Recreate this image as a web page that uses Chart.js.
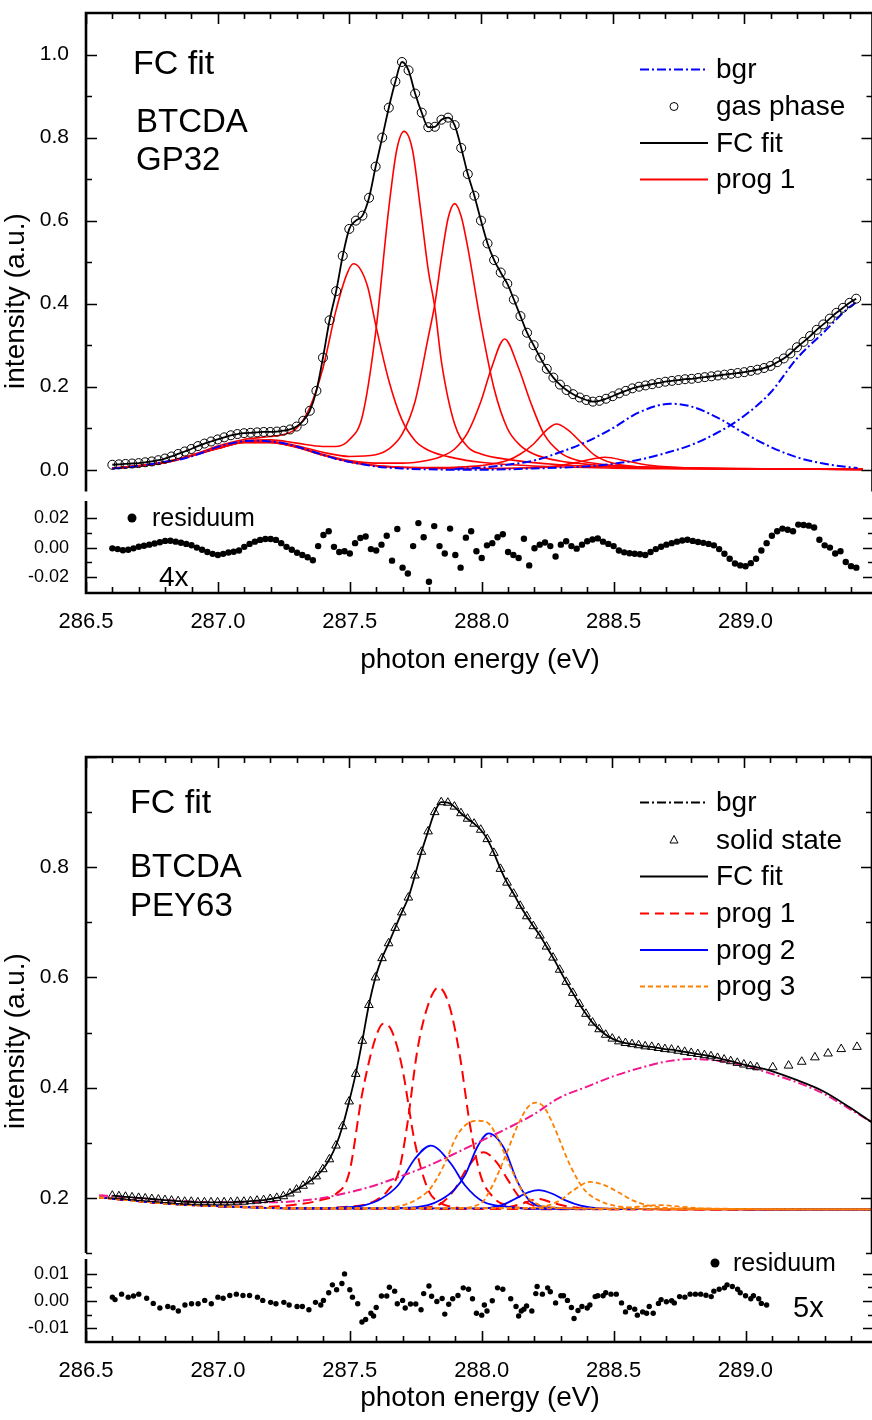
<!DOCTYPE html>
<html>
<head>
<meta charset="utf-8">
<title>BTCDA FC fit</title>
<script src="https://cdn.jsdelivr.net/npm/chart.js"></script>
<style>
  body { margin: 0; background: #fff; width: 872px; height: 1420px; overflow: hidden; position: relative; }
  canvas { position: absolute; left: 0; }
</style>
</head>
<body>
<canvas id="gpMain" width="878" height="497" style="top:0"></canvas>
<canvas id="gpRes" width="878" height="190" style="top:497px"></canvas>
<canvas id="ssMain" width="878" height="515" style="top:744px"></canvas>
<canvas id="ssRes" width="878" height="186" style="top:1239px"></canvas>
<script>
const FONT = "'Liberation Sans', Arial, Helvetica, sans-serif";

// shared energy axis (right frame edge sits just past the picture edge)
const E_MIN = 286.5, E_MAX = 289.487;
const xMajor = [286.5, 287.0, 287.5, 288.0, 288.5, 289.0];

// ---------- top panel: gas phase GP32 ----------
const gasStart = 286.6, gasStep = 0.025;
const gasPhase = [
  0.012,0.013,0.014,0.015,0.016,0.018,0.020,0.023,0.027,0.032,
  0.038,0.044,0.050,0.057,0.063,0.068,0.073,0.078,0.083,0.086,
  0.088,0.089,0.090,0.091,0.091,0.092,0.094,0.097,0.104,0.118,
  0.142,0.19,0.27,0.36,0.43,0.515,0.58,0.600,0.612,0.655,
  0.73,0.80,0.872,0.935,0.982,0.962,0.906,0.86,0.825,0.826,
  0.843,0.848,0.830,0.775,0.712,0.66,0.60,0.545,0.505,0.475,
  0.448,0.41,0.37,0.33,0.30,0.27,0.243,0.222,0.205,0.192,
  0.182,0.174,0.168,0.164,0.166,0.171,0.177,0.184,0.190,0.196,
  0.200,0.203,0.206,0.209,0.212,0.214,0.216,0.218,0.219,0.221,
  0.223,0.225,0.227,0.229,0.231,0.233,0.235,0.238,0.241,0.245,
  0.250,0.259,0.268,0.280,0.295,0.308,0.322,0.337,0.35,0.364,
  0.378,0.390,0.402,0.412
];

const gpBgrEdge = [[286.6,0.003],[286.65,0.005],[286.7,0.009],[286.75,0.014],[286.8,0.019],[286.85,0.024],[286.9,0.032],[286.95,0.043],[287.0,0.055],[287.05,0.063],[287.1,0.069],[287.15,0.070],[287.2,0.068],[287.25,0.064],[287.3,0.056],[287.35,0.046],[287.4,0.036],[287.45,0.026],[287.5,0.019],[287.55,0.013],[287.6,0.008],[287.65,0.005],[287.7,0.003],[287.8,0.001],[287.9,0.0],[288.0,0.0],[288.1,0.001],[288.2,0.003],[288.3,0.005],[288.4,0.008],[288.5,0.014],[288.6,0.024],[288.7,0.04],[288.8,0.06],[288.9,0.09],[289.0,0.13],[289.1,0.186],[289.2,0.268],[289.3,0.33],[289.4,0.392],[289.43,0.405]];
const gpBgrPeak = [[287.9,0.002],[288.0,0.005],[288.1,0.012],[288.2,0.022],[288.3,0.042],[288.4,0.067],[288.5,0.10],[288.6,0.138],[288.72,0.159],[288.8,0.152],[288.9,0.125],[289.0,0.088],[289.1,0.055],[289.2,0.03],[289.3,0.015],[289.4,0.006],[289.43,0.004]];

const gpProg1 = [
  [[286.6,0.004],[286.7,0.010],[286.8,0.019],[286.9,0.034],[287.0,0.057],[287.1,0.073],[287.2,0.08],[287.25,0.085],[287.3,0.1],[287.35,0.15],[287.4,0.245],[287.45,0.385],[287.49,0.47],[287.515,0.496],[287.54,0.485],[287.57,0.44],[287.6,0.35],[287.65,0.215],[287.7,0.12],[287.75,0.07],[287.8,0.047],[287.9,0.028],[288.0,0.018],[288.2,0.009],[288.5,0.004],[289.0,0.002],[289.45,0.001]],
  [[286.6,0.004],[286.8,0.018],[287.0,0.054],[287.1,0.069],[287.2,0.072],[287.3,0.064],[287.4,0.056],[287.45,0.056],[287.5,0.072],[287.55,0.13],[287.6,0.33],[287.65,0.63],[287.68,0.77],[287.708,0.815],[287.74,0.77],[287.77,0.63],[287.8,0.48],[287.825,0.39],[287.85,0.26],[287.9,0.11],[287.95,0.055],[288.0,0.038],[288.1,0.025],[288.3,0.012],[288.6,0.005],[289.0,0.002],[289.45,0.001]],
  [[286.6,0.003],[286.8,0.017],[287.0,0.052],[287.1,0.067],[287.2,0.068],[287.3,0.058],[287.4,0.042],[287.5,0.032],[287.6,0.036],[287.65,0.05],[287.7,0.085],[287.75,0.165],[287.8,0.32],[287.825,0.40],[287.85,0.51],[287.875,0.605],[287.90,0.641],[287.925,0.61],[287.95,0.535],[288.0,0.35],[288.05,0.195],[288.1,0.1],[288.15,0.058],[288.2,0.038],[288.3,0.021],[288.5,0.009],[288.8,0.004],[289.1,0.002],[289.45,0.001]],
  [[286.6,0.003],[286.8,0.017],[287.0,0.051],[287.1,0.066],[287.2,0.066],[287.3,0.055],[287.4,0.037],[287.5,0.022],[287.6,0.016],[287.7,0.016],[287.8,0.023],[287.85,0.032],[287.9,0.05],[287.95,0.09],[288.0,0.165],[288.04,0.245],[288.09,0.315],[288.14,0.25],[288.19,0.16],[288.24,0.085],[288.3,0.042],[288.35,0.026],[288.45,0.014],[288.6,0.007],[288.9,0.003],[289.45,0.001]],
  [[286.6,0.003],[286.8,0.017],[287.0,0.051],[287.1,0.066],[287.2,0.066],[287.3,0.054],[287.4,0.035],[287.5,0.019],[287.6,0.01],[287.7,0.006],[287.8,0.005],[287.9,0.006],[288.0,0.01],[288.1,0.022],[288.15,0.038],[288.2,0.062],[288.25,0.096],[288.287,0.11],[288.33,0.096],[288.38,0.066],[288.43,0.036],[288.5,0.016],[288.6,0.007],[288.8,0.003],[289.45,0.001]],
  [[286.6,0.003],[286.8,0.017],[287.0,0.051],[287.1,0.066],[287.2,0.066],[287.3,0.054],[287.4,0.035],[287.5,0.019],[287.6,0.01],[287.8,0.004],[288.0,0.003],[288.2,0.005],[288.3,0.01],[288.38,0.02],[288.47,0.03],[288.56,0.02],[288.65,0.01],[288.8,0.004],[289.0,0.002],[289.45,0.001]]
];

const gpResStart = 286.6, gpResStep = 0.02;
const gpResiduum = [
  -0.0005,-0.001,-0.0018,-0.0015,-0.0005,0.0006,0.0012,0.002,0.0028,0.0036,
  0.0045,0.0046,0.004,0.0033,0.0025,0.0016,0.0,-0.0015,-0.003,-0.0042,
  -0.005,-0.0042,-0.0033,-0.0028,-0.002,0.0005,0.0025,0.004,0.0052,0.0058,
  0.0058,0.0052,0.003,0.0005,-0.0015,-0.0035,-0.005,-0.0065,-0.0085,0.001,
  0.0085,0.011,0.0005,-0.003,-0.0025,-0.004,0.003,0.0065,0.0075,-0.001,
  -0.002,0.002,0.008,-0.0088,0.0125,-0.0135,-0.0175,0.001,0.0165,0.007,
  -0.023,0.0145,0.001,-0.004,0.0128,-0.005,-0.0135,0.0067,0.011,-0.0025,
  -0.007,0.0015,0.003,0.007,0.009,-0.003,-0.005,-0.007,0.006,-0.012,
  -0.0004,0.002,0.0034,0.001,-0.006,0.002,0.0043,0.001,-0.0007,0.002,
  0.0043,0.0055,0.0062,0.004,0.0025,0.001,-0.002,-0.0032,-0.0038,-0.0041,
  -0.0045,-0.005,-0.003,-0.001,0.0006,0.002,0.003,0.004,0.0048,0.0053,
  0.0045,0.0038,0.0032,0.0025,0.0015,-0.001,-0.0041,-0.0075,-0.0107,-0.012,
  -0.0126,-0.0105,-0.0075,-0.002,0.003,0.008,0.011,0.0128,0.012,0.011,
  0.0155,0.0152,0.0148,0.0135,0.0053,0.0015,0.0,-0.004,-0.0025,-0.0097,
  -0.0125,-0.0135
];

// ---------- bottom panel: solid state PEY63 ----------
const solidStart = 286.6, solidStep = 0.025;
const solidState = [
  0.204,0.203,0.202,0.201,0.200,0.199,0.198,0.197,0.196,0.195,
  0.194,0.193,0.193,0.192,0.192,0.192,0.192,0.192,0.192,0.193,
  0.193,0.194,0.195,0.196,0.198,0.200,0.203,0.208,0.215,0.222,
  0.230,0.239,0.252,0.270,0.295,0.330,0.375,0.425,0.485,0.550,
  0.600,0.635,0.662,0.690,0.718,0.745,0.785,0.828,0.865,0.900,
  0.918,0.917,0.910,0.898,0.888,0.879,0.868,0.851,0.826,0.797,
  0.772,0.752,0.730,0.711,0.693,0.676,0.656,0.636,0.614,0.592,
  0.572,0.552,0.534,0.518,0.506,0.496,0.489,0.484,0.481,0.479,
  0.477,0.475,0.474,0.472,0.470,0.469,0.467,0.465,0.463,0.461,
  0.459,0.457,0.454,0.451,0.448,0.445,0.442,0.439,0.437
];
const solidTail = [[289.11,0.437],[289.17,0.440],[289.22,0.447],[289.27,0.455],[289.32,0.462],[289.37,0.470],[289.43,0.474]];
const fitTail = [[289.1,0.431],[289.2,0.414],[289.3,0.394],[289.4,0.365],[289.487,0.337]];

const ssBgr = [[286.55,0.205],[286.6,0.203],[286.8,0.196],[287.0,0.192],[287.2,0.192],[287.3,0.194],[287.4,0.2],[287.5,0.21],[287.6,0.223],[287.7,0.24],[287.8,0.258],[287.9,0.28],[288.0,0.303],[288.1,0.326],[288.2,0.351],[288.3,0.382],[288.4,0.401],[288.5,0.42],[288.6,0.435],[288.7,0.447],[288.8,0.452],[288.9,0.449],[289.0,0.44],[289.1,0.426],[289.2,0.41],[289.3,0.39],[289.4,0.362],[289.487,0.337]];

const ssProg1 = [
  [[286.55,0.201],[286.8,0.19],[287.0,0.185],[287.2,0.184],[287.3,0.188],[287.4,0.197],[287.45,0.207],[287.5,0.245],[287.55,0.39],[287.6,0.49],[287.63,0.516],[287.66,0.505],[287.7,0.44],[287.75,0.30],[287.8,0.215],[287.85,0.19],[287.9,0.183],[288.0,0.18],[289.487,0.179]],
  [[286.55,0.201],[286.8,0.19],[287.0,0.185],[287.3,0.181],[287.5,0.184],[287.6,0.195],[287.65,0.215],[287.69,0.25],[287.72,0.33],[287.76,0.47],[287.8,0.55],[287.84,0.582],[287.88,0.55],[287.92,0.46],[287.96,0.33],[288.0,0.24],[288.05,0.2],[288.1,0.186],[288.2,0.181],[289.487,0.179]],
  [[286.55,0.201],[286.8,0.19],[287.0,0.185],[287.3,0.181],[287.7,0.18],[287.8,0.183],[287.85,0.19],[287.9,0.215],[287.95,0.255],[288.01,0.283],[288.06,0.265],[288.1,0.235],[288.15,0.2],[288.2,0.186],[288.3,0.18],[289.487,0.179]],
  [[286.55,0.201],[286.8,0.19],[287.0,0.185],[287.3,0.181],[288.0,0.18],[288.1,0.183],[288.16,0.19],[288.22,0.198],[288.28,0.19],[288.35,0.183],[288.45,0.18],[289.487,0.179]]
];
const ssProg2 = [
  [[286.55,0.201],[286.8,0.19],[287.0,0.185],[287.3,0.181],[287.5,0.183],[287.56,0.187],[287.62,0.198],[287.686,0.223],[287.75,0.271],[287.81,0.295],[287.887,0.262],[287.94,0.223],[288.01,0.193],[288.1,0.184],[288.2,0.18],[289.487,0.179]],
  [[286.55,0.201],[286.8,0.19],[287.0,0.185],[287.3,0.181],[287.7,0.182],[287.8,0.187],[287.85,0.197],[287.9,0.215],[287.94,0.241],[287.99,0.295],[288.03,0.317],[288.09,0.289],[288.14,0.229],[288.19,0.193],[288.25,0.183],[288.4,0.18],[289.487,0.179]],
  [[286.55,0.201],[286.8,0.19],[287.0,0.185],[287.3,0.181],[288.0,0.181],[288.08,0.187],[288.13,0.198],[288.18,0.21],[288.22,0.214],[288.27,0.208],[288.32,0.196],[288.38,0.186],[288.45,0.181],[288.6,0.18],[289.487,0.179]]
];
const ssProg3 = [
  [[286.55,0.201],[286.8,0.19],[287.0,0.185],[287.3,0.181],[287.6,0.181],[287.7,0.186],[287.76,0.198],[287.81,0.218],[287.86,0.259],[287.91,0.313],[287.95,0.335],[287.99,0.34],[288.03,0.335],[288.06,0.313],[288.11,0.259],[288.16,0.211],[288.21,0.19],[288.3,0.182],[288.4,0.18],[289.487,0.179]],
  [[286.55,0.201],[286.8,0.19],[287.0,0.185],[287.3,0.181],[287.9,0.181],[288.0,0.19],[288.04,0.218],[288.09,0.271],[288.14,0.331],[288.18,0.365],[288.21,0.373],[288.24,0.365],[288.277,0.331],[288.34,0.259],[288.39,0.217],[288.45,0.195],[288.55,0.183],[288.7,0.18],[289.487,0.179]],
  [[286.55,0.201],[286.8,0.19],[287.0,0.185],[287.3,0.181],[288.2,0.182],[288.3,0.195],[288.35,0.213],[288.415,0.229],[288.47,0.223],[288.52,0.211],[288.58,0.195],[288.65,0.185],[288.75,0.181],[289.487,0.179]],
  [[286.55,0.201],[286.8,0.19],[287.0,0.185],[287.3,0.181],[288.5,0.181],[288.6,0.184],[288.68,0.187],[288.76,0.184],[288.85,0.181],[289.487,0.179]]
];

const ssResiduum = [[286.60,0.0014],[286.61,0.0005],[286.635,0.0025],[286.66,0.0014],[286.68,0.0018],[286.70,0.0025],[286.73,0.001],[286.755,-0.0009],[286.78,-0.0026],[286.81,-0.002],[286.83,-0.0025],[286.85,-0.0037],[286.875,-0.0015],[286.90,-0.001],[286.925,-0.001],[286.95,0.0002],[286.975,-0.001],[287.0,0.0014],[287.02,0.001],[287.045,0.002],[287.07,0.0025],[287.095,0.002],[287.12,0.002],[287.15,0.0014],[287.17,0.0002],[287.2,-0.0005],[287.22,-0.001],[287.25,-0.0005],[287.27,-0.0015],[287.30,-0.002],[287.32,-0.002],[287.345,-0.0032],[287.37,-0.0005],[287.39,-0.0015],[287.40,0.0002],[287.42,0.003],[287.434,0.0059],[287.45,0.0041],[287.47,0.0064],[287.48,0.0099],[287.5,0.0041],[287.51,0.0014],[287.53,-0.001],[287.546,-0.0077],[287.56,-0.0068],[287.58,-0.0045],[287.59,-0.0055],[287.6,-0.0024],[287.62,0.0018],[287.64,0.0018],[287.65,0.005],[287.67,0.0036],[287.68,-0.001],[287.7,0.0002],[287.71,-0.0026],[287.73,-0.0011],[287.75,-0.0011],[287.77,-0.0032],[287.78,0.0027],[287.8,0.0055],[287.81,0.0017],[287.83,-0.0002],[287.85,0.0009],[287.86,-0.0048],[287.875,-0.0012],[287.89,0.0008],[287.91,0.002],[287.93,0.0048],[287.95,0.0043],[287.965,0.0008],[287.98,-0.0045],[288.0,-0.0052],[288.01,-0.0015],[288.02,-0.0037],[288.04,0.0001],[288.06,0.0048],[288.08,0.0043],[288.11,0.0008],[288.13,-0.002],[288.14,-0.0055],[288.15,-0.0037],[288.16,-0.003],[288.17,-0.0018],[288.19,-0.0037],[288.205,0.0027],[288.21,0.0053],[288.23,0.0025],[288.25,0.0048],[288.26,0.0034],[288.28,-0.0007],[288.30,0.0019],[288.31,0.0019],[288.325,0.0002],[288.34,-0.0024],[288.35,-0.0064],[288.365,-0.0035],[288.38,-0.002],[288.40,-0.0026],[288.41,-0.0015],[288.43,0.0016],[288.44,0.0019],[288.46,0.0019],[288.47,0.003],[288.49,0.0025],[288.51,0.0025],[288.53,-0.0007],[288.545,-0.004],[288.56,-0.0024],[288.58,-0.003],[288.59,-0.0052],[288.61,-0.004],[288.625,-0.0045],[288.635,-0.002],[288.65,-0.0045],[288.67,-0.0009],[288.68,0.0005],[288.70,-0.0003],[288.72,0.0001],[288.73,-0.0007],[288.75,0.0016],[288.77,0.0014],[288.79,0.0025],[288.81,0.0025],[288.83,0.0025],[288.85,0.0021],[288.87,0.0016],[288.88,0.0036],[288.90,0.0043],[288.92,0.0048],[288.93,0.0059],[288.95,0.0053],[288.97,0.0043],[288.98,0.003],[289.0,0.0019],[289.02,0.0008],[289.03,0.0019],[289.05,0.0008],[289.06,-0.0009],[289.08,-0.0015]];

// ---------- helpers ----------
const grid = (start, step, vals) => vals.map((v, i) => ({x: +(start + i * step).toFixed(4), y: v}));
const pairs = arr => arr.map(([x, y]) => ({x, y}));

function curve(data, color, width, dash) {
  return {data, showLine: true, borderColor: color, borderWidth: width, borderDash: dash || [],
          pointRadius: 0, fill: false, cubicInterpolationMode: 'monotone'};
}
function marks(data, style, radius, fillColor, width) {
  return {data, showLine: false, pointStyle: style, pointRadius: radius,
          pointBackgroundColor: fillColor, pointBorderColor: '#000', pointBorderWidth: width};
}

const xMinor = [];
for (let v = 286.6; v < E_MAX; v += 0.1) xMinor.push(+v.toFixed(1));

function xHidden() { return {type: 'linear', min: E_MIN, max: E_MAX, display: false}; }
function xShown() {
  return {
    type: 'linear', min: E_MIN, max: E_MAX,
    grid: {display: false}, border: {display: false},
    afterBuildTicks: s => { s.ticks = xMajor.map(v => ({value: v})); },
    afterFit: s => { s.paddingLeft = 0; s.paddingRight = 0; },
    ticks: {font: {size: 22}, padding: 8, maxRotation: 0, autoSkip: false, callback: v => v.toFixed(1)},
    title: {display: true, text: 'photon energy (eV)', font: {size: 28}, padding: {top: 0, bottom: 10}}
  };
}
function yAxis(min, max, ticks, digits, size) {
  return {
    type: 'linear', min, max,
    grid: {display: false}, border: {display: false},
    afterBuildTicks: s => { s.ticks = ticks.map(v => ({value: v})); },
    afterFit: s => { s.width = 86; s.paddingTop = 0; s.paddingBottom = 0; },
    ticks: {font: {size}, padding: 9, callback: v => (Math.abs(v) < 1e-9 ? 0 : v).toFixed(digits)}
  };
}

// frame lines and inward ticks
const framePlugin = {
  id: 'frame',
  afterDatasetsDraw(chart, args, o) {
    const {ctx, chartArea: a} = chart;
    const x = chart.scales.x, y = chart.scales.y;
    ctx.save();
    ctx.strokeStyle = '#000';
    ctx.lineWidth = 1.6;
    ctx.beginPath();
    const tx = (vals, len) => vals.forEach(v => {
      const p = Math.round(x.getPixelForValue(v)) + 0.5;
      if (o.top) { ctx.moveTo(p, a.top); ctx.lineTo(p, a.top + len); }
      if (o.bottom) { ctx.moveTo(p, a.bottom); ctx.lineTo(p, a.bottom - len); }
    });
    const ty = (vals, len) => vals.forEach(v => {
      const p = Math.round(y.getPixelForValue(v)) + 0.5;
      ctx.moveTo(a.left, p); ctx.lineTo(a.left + len, p);
      ctx.moveTo(a.right, p); ctx.lineTo(a.right - len, p);
    });
    tx(xMajor, 11); tx(xMinor, 6);
    ty(o.yMajor, 11); ty(o.yMinor, 6);
    ctx.stroke();
    ctx.lineWidth = 2.6;
    ctx.beginPath();
    ctx.moveTo(a.left, a.top); ctx.lineTo(a.left, a.bottom);
    ctx.moveTo(a.right, a.top); ctx.lineTo(a.right, a.bottom);
    if (o.top) { ctx.moveTo(a.left - 1.3, a.top); ctx.lineTo(a.right + 1.3, a.top); }
    if (o.bottom) { ctx.moveTo(a.left - 1.3, a.bottom); ctx.lineTo(a.right + 1.3, a.bottom); }
    ctx.stroke();
    ctx.restore();
  }
};

// text labels and legend keys
const notesPlugin = {
  id: 'notes',
  afterDraw(chart, args, o) {
    const ctx = chart.ctx;
    ctx.save();
    ctx.fillStyle = '#000';
    ctx.textBaseline = 'middle';
    (o.texts || []).forEach(t => {
      ctx.save();
      ctx.font = t.size + 'px ' + FONT;
      ctx.translate(t.x, t.y);
      if (t.rot) ctx.rotate(t.rot);
      ctx.textAlign = t.align || 'left';
      ctx.fillText(t.text, 0, 0);
      ctx.restore();
    });
    (o.keys || []).forEach(k => {
      ctx.save();
      if (k.marker) {
        const cx = k.mx || 674, cy = k.y;
        ctx.strokeStyle = '#000'; ctx.fillStyle = '#000'; ctx.lineWidth = 1;
        ctx.beginPath();
        if (k.marker === 'circle') { ctx.arc(cx, cy, 4, 0, Math.PI * 2); ctx.stroke(); }
        else if (k.marker === 'dot') { ctx.arc(cx, cy, 4.5, 0, Math.PI * 2); ctx.fill(); }
        else if (k.marker === 'triangle') {
          ctx.moveTo(cx, cy - 4.5); ctx.lineTo(cx + 4, cy + 3); ctx.lineTo(cx - 4, cy + 3); ctx.closePath(); ctx.stroke();
        }
      } else {
        ctx.strokeStyle = k.color; ctx.lineWidth = k.width; ctx.setLineDash(k.dash || []);
        ctx.beginPath(); ctx.moveTo(640, k.y); ctx.lineTo(708, k.y); ctx.stroke();
      }
      ctx.restore();
      ctx.font = (k.size || 28) + 'px ' + FONT;
      ctx.textAlign = 'left';
      ctx.fillText(k.label, k.tx || 716, k.y + 1);
    });
    ctx.restore();
  }
};

Chart.defaults.font.family = FONT;
Chart.defaults.color = '#000';
Chart.defaults.animation = false;
Chart.defaults.events = [];
Chart.register(framePlugin, notesPlugin);

const basePlugins = {legend: {display: false}, tooltip: {enabled: false}};
const RED = '#ff0000', BLUE = '#0000ff', ORANGE = '#ff8000', PINK = '#f0188c';
const DASHDOT = [9, 3, 2, 3];

// ---- top main ----
new Chart(document.getElementById('gpMain'), {
  type: 'scatter',
  data: {datasets: [
    marks(grid(gasStart, gasStep, gasPhase), 'circle', 4.5, 'rgba(0,0,0,0)', 1),
    curve(grid(gasStart, gasStep, gasPhase), '#000', 1.8),
    curve(pairs(gpBgrEdge), BLUE, 2, DASHDOT),
    curve(pairs(gpBgrPeak), BLUE, 2, DASHDOT),
    ...gpProg1.map(p => curve(pairs(p), RED, 1.6))
  ]},
  options: {
    responsive: false, maintainAspectRatio: false,
    layout: {padding: {top: 13, right: 1, bottom: 0, left: 0}},
    scales: {x: xHidden(), y: yAxis(-0.0524, 1.1, [0, 0.2, 0.4, 0.6, 0.8, 1.0], 1, 21)},
    plugins: {...basePlugins,
      frame: {top: true, bottom: false, yMajor: [0, 0.2, 0.4, 0.6, 0.8, 1.0], yMinor: [0.1, 0.3, 0.5, 0.7, 0.9]},
      notes: {
        texts: [
          {text: 'FC fit', x: 133, y: 65, size: 34},
          {text: 'BTCDA', x: 136, y: 123, size: 33},
          {text: 'GP32', x: 136, y: 161, size: 33},
          {text: 'intensity (a.u.)', x: 16, y: 301, size: 28, rot: -Math.PI / 2, align: 'center'}
        ],
        keys: [
          {label: 'bgr', y: 69.5, color: BLUE, width: 2, dash: DASHDOT},
          {label: 'gas phase', y: 106.5, marker: 'circle'},
          {label: 'FC fit', y: 143, color: '#000', width: 2},
          {label: 'prog 1', y: 179.5, color: RED, width: 2}
        ]
      }
    }
  }
});

// ---- top residual ----
new Chart(document.getElementById('gpRes'), {
  type: 'scatter',
  data: {datasets: [marks(grid(gpResStart, gpResStep, gpResiduum), 'circle', 3.2, '#000', 0)]},
  options: {
    responsive: false, maintainAspectRatio: false,
    layout: {padding: {top: 0, right: 1, bottom: 0, left: 0}},
    scales: {x: xShown(), y: yAxis(-0.0306, 0.0314, [-0.02, 0, 0.02], 2, 18)},
    plugins: {...basePlugins,
      frame: {top: false, bottom: true, yMajor: [-0.02, 0, 0.02], yMinor: [-0.01, 0.01]},
      notes: {
        texts: [{text: '4x', x: 159, y: 81, size: 28}],
        keys: [{label: 'residuum', y: 21, marker: 'dot', mx: 132, tx: 152, size: 25}]
      }
    }
  }
});

// ---- bottom main ----
new Chart(document.getElementById('ssMain'), {
  type: 'scatter',
  data: {datasets: [
    marks(grid(solidStart, solidStep, solidState).concat(pairs(solidTail)), 'triangle', 5, 'rgba(0,0,0,0)', 1),
    curve(grid(solidStart, solidStep, solidState).concat(pairs(fitTail)), '#000', 1.8),
    curve(pairs(ssBgr), PINK, 2, DASHDOT),
    ...ssProg3.map(p => curve(pairs(p), ORANGE, 1.8, [5, 3])),
    ...ssProg2.map(p => curve(pairs(p), BLUE, 1.8)),
    ...ssProg1.map(p => curve(pairs(p), RED, 2, [11, 6]))
  ]},
  options: {
    responsive: false, maintainAspectRatio: false,
    layout: {padding: {top: 13, right: 1, bottom: 0, left: 0}},
    scales: {x: xHidden(), y: yAxis(0.1, 1.0, [0.2, 0.4, 0.6, 0.8], 1, 21)},
    plugins: {...basePlugins,
      frame: {top: true, bottom: false, yMajor: [0.2, 0.4, 0.6, 0.8, 1.0], yMinor: [0.1, 0.3, 0.5, 0.7, 0.9]},
      notes: {
        texts: [
          {text: 'FC fit', x: 130, y: 60, size: 34},
          {text: 'BTCDA', x: 130, y: 124, size: 33},
          {text: 'PEY63', x: 130, y: 163, size: 33},
          {text: 'intensity (a.u.)', x: 16, y: 297, size: 28, rot: -Math.PI / 2, align: 'center'}
        ],
        keys: [
          {label: 'bgr', y: 58.5, color: '#000', width: 2, dash: DASHDOT},
          {label: 'solid state', y: 96, marker: 'triangle'},
          {label: 'FC fit', y: 132.5, color: '#000', width: 2},
          {label: 'prog 1', y: 169.5, color: RED, width: 2, dash: [9, 6]},
          {label: 'prog 2', y: 206, color: BLUE, width: 2},
          {label: 'prog 3', y: 242.5, color: ORANGE, width: 2, dash: [5, 3]}
        ]
      }
    }
  }
});

// ---- bottom residual (canvas starts 20px above its plot so the key fits) ----
new Chart(document.getElementById('ssRes'), {
  type: 'scatter',
  data: {datasets: [marks(pairs(ssResiduum), 'circle', 2.7, '#000', 0)]},
  options: {
    responsive: false, maintainAspectRatio: false,
    layout: {padding: {top: 20, right: 1, bottom: 0, left: 0}},
    scales: {x: xShown(), y: yAxis(-0.01502, 0.01536, [-0.01, 0, 0.01], 2, 18)},
    plugins: {...basePlugins,
      frame: {top: false, bottom: true, yMajor: [-0.01, 0, 0.01], yMinor: [-0.005, 0.005]},
      notes: {
        texts: [{text: '5x', x: 793, y: 70, size: 29}],
        keys: [{label: 'residuum', y: 24, marker: 'dot', mx: 715, tx: 733, size: 25}]
      }
    }
  }
});
</script>
</body>
</html>
